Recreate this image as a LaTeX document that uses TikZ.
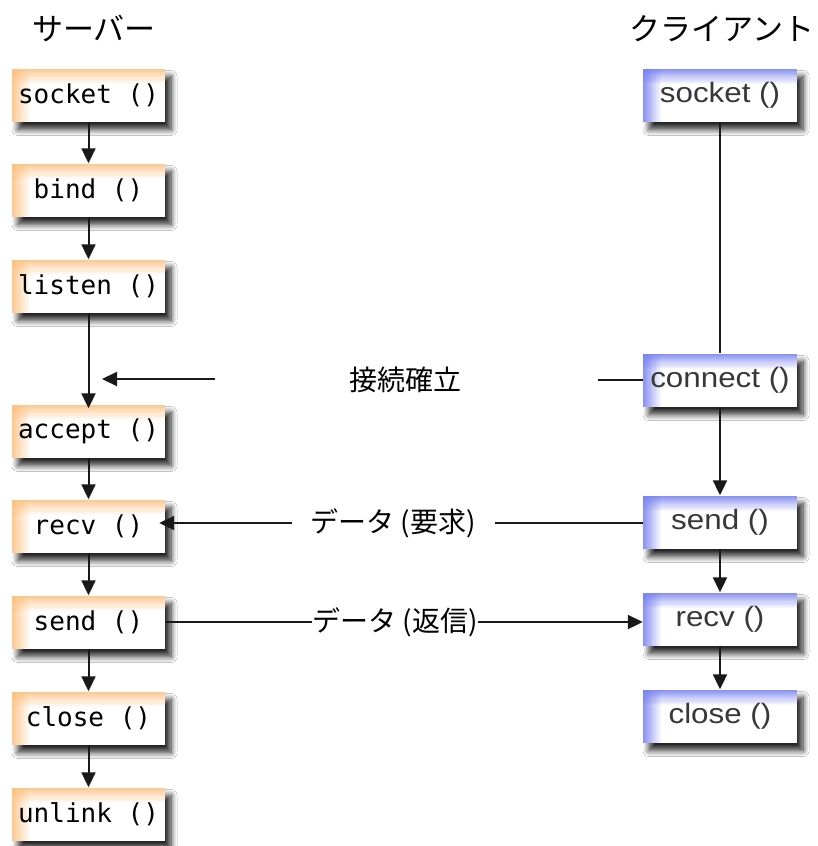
\documentclass[tikz,border=0pt]{standalone}
\usepackage{fontspec}
\newfontfamily\jpfont{Noto Sans CJK JP}
\newfontfamily\monofont{DejaVu Sans Mono}
\newfontfamily\clifont[FakeStretch=1.12]{Liberation Sans}
\usetikzlibrary{arrows.meta,shadows.blur}
\definecolor{sorange}{RGB}{252,192,128}
\definecolor{cblue}{RGB}{118,128,240}
\tikzset{
  grad/.style={path picture={
    \foreach \i in {0,...,13} {
      \fill[#1, opacity={(1-\i/14)*0.85}]
        ([xshift=\i*1.3pt]path picture bounding box.north west) rectangle ([xshift=\i*1.3pt+1.3pt]path picture bounding box.south west);
      \fill[#1, opacity={(1-\i/14)*0.85}]
        ([yshift=-\i*1.1pt]path picture bounding box.north west) rectangle ([yshift=-\i*1.1pt-1.1pt]path picture bounding box.north east);
    }
  }},
  boxbase/.style={minimum width=153pt, minimum height=53pt, inner sep=0pt, fill=white,
    blur shadow={shadow xshift=6pt, shadow yshift=-8pt, shadow blur radius=6pt, shadow opacity=85, shadow blur steps=10}},
  srv/.style={boxbase, grad=sorange, text=black, font=\monofont\fontsize{26}{28}\selectfont},
  cln/.style={boxbase, minimum width=154pt, grad=cblue, text=black!78, font=\clifont\fontsize{28}{30}\selectfont},
  conn/.style={line width=2pt, draw=black!90},
  arr/.style={conn, -{Triangle[length=15pt,width=14pt]}},
  title/.style={font=\jpfont\fontsize{31}{34}\selectfont, inner sep=0pt},
  lbl/.style={font=\jpfont\fontsize{28}{30}\selectfont, inner sep=0pt},
}
\begin{document}
\begin{tikzpicture}[x=1pt,y=-1pt]
\useasboundingbox (0,0) rectangle (817,846);
\fill[white] (0,0) rectangle (817,846);

% titles
\node[title] (t1) at (94,29) {サーバー};
\node[title] (t2) at (722,29) {クライアント};

% server boxes
\node[srv] (s1) at (88.5,95) {socket ()};
\node[srv] (s2) at (88.5,190) {bind ()};
\node[srv] (s3) at (88.5,286) {listen ()};
\node[srv] (s4) at (88.5,431) {accept ()};
\node[srv] (s5) at (88.5,526) {recv ()};
\node[srv] (s6) at (88.5,622) {send ()};
\node[srv] (s7) at (88.5,718) {close ()};
\node[srv] (s8) at (88.5,814) {unlink ()};

% client boxes
\node[cln] (c1) at (720,95) {socket ()};
\node[cln] (c2) at (720,380) {connect ()};
\node[cln] (c3) at (720,522) {send ()};
\node[cln] (c4) at (720,619) {recv ()};
\node[cln] (c5) at (720,716) {close ()};

% labels
\node[lbl] (l1) at (405,380) {接続確立};
\node[lbl] (l2) at (393,523) {データ (要求)};
\node[lbl] (l3) at (395,622) {データ (返信)};

% server flow
\draw[arr] (s1.south) -- (s2.north);
\draw[arr] (s2.south) -- (s3.north);
\draw[arr] (s3.south) -- ([yshift=-4pt]s4.north);
\draw[arr] (s4.south) -- (s5.north);
\draw[arr] (s5.south) -- (s6.north);
\draw[arr] (s6.south) -- (s7.north);
\draw[arr] (s7.south) -- (s8.north);

% client flow
\draw[conn] (c1.south) -- (c2.north);
\draw[arr] (c2.south) -- (c3.north);
\draw[arr] (c3.south) -- (c4.north);
\draw[arr] (c4.south) -- (c5.north);

% connection establishment
\coordinate (ca) at (598,380);
\coordinate (cb) at (215,379);
\coordinate (cc) at (102,379);
\draw[conn] (c2.west) -- (ca);
\draw[arr] (cb) -- (cc);

% request
\coordinate (qa) at (495,523);
\coordinate (qb) at (292,523);
\draw[conn] (c3.west |- qa) -- (qa);
\draw[arr, shorten >=-6pt] (qb) -- (s5.east |- qb);

% reply
\draw[conn] (s6.east) -- (l3.west);
\draw[arr] (l3.east) -- (c4.west |- l3.east);
\end{tikzpicture}
\end{document}
